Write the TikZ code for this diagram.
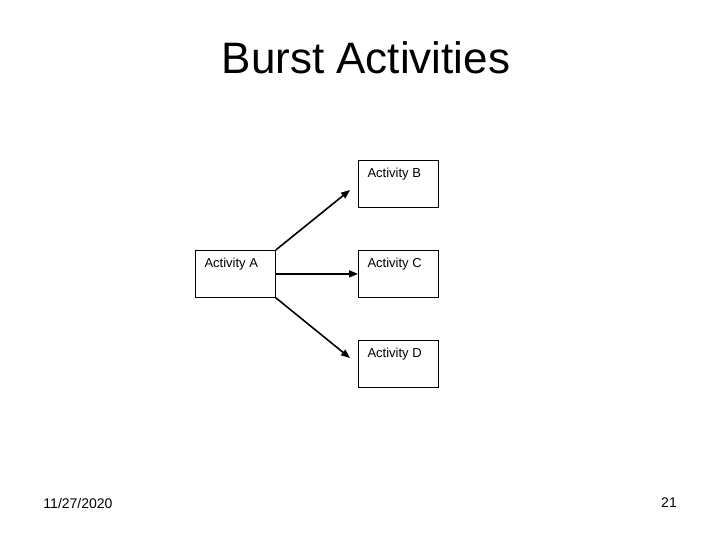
\documentclass[tikz,border=0pt]{standalone}
\usepackage{fontspec}
\setmainfont{Liberation Sans}
\usetikzlibrary{arrows.meta}
\begin{document}
\begin{tikzpicture}[x=1pt,y=-1pt,
  box/.style={draw,line width=0.8pt,minimum width=80pt,minimum height=47pt,anchor=north west,inner sep=0pt},
  lbl/.style={anchor=north west,font=\fontsize{13}{15}\selectfont},
  arr/.style={line width=1.6pt,-{Triangle[length=9pt,width=7pt]}}]
\useasboundingbox[fill=white] (0,0) rectangle (720,540);
\node[font=\fontsize{44}{50}\selectfont] (t) at (366,58) {Burst Activities};
\node[box] (a) at (195,250) {};
\node[box] (b) at (358,160) {};
\node[box] (c) at (358,250) {};
\node[box] (d) at (358,340) {};
\node[lbl] (la) at (201,255) {Activity A};
\node[lbl] (lb) at (364,165) {Activity B};
\node[lbl] (lc) at (364,255) {Activity C};
\node[lbl] (ld) at (364,345) {Activity D};
\coordinate (be) at (350,190);
\coordinate (de) at (350,358);
\draw[arr] (a.north east) -- (be);
\draw[arr] (a.east) -- (c.west);
\draw[arr] (a.south east) -- (de);
\node[font=\fontsize{14}{16}\selectfont] (dt) at (78,503) {11/27/2020};
\node[font=\fontsize{14}{16}\selectfont] (pg) at (669,503) {21};
\end{tikzpicture}
\end{document}
